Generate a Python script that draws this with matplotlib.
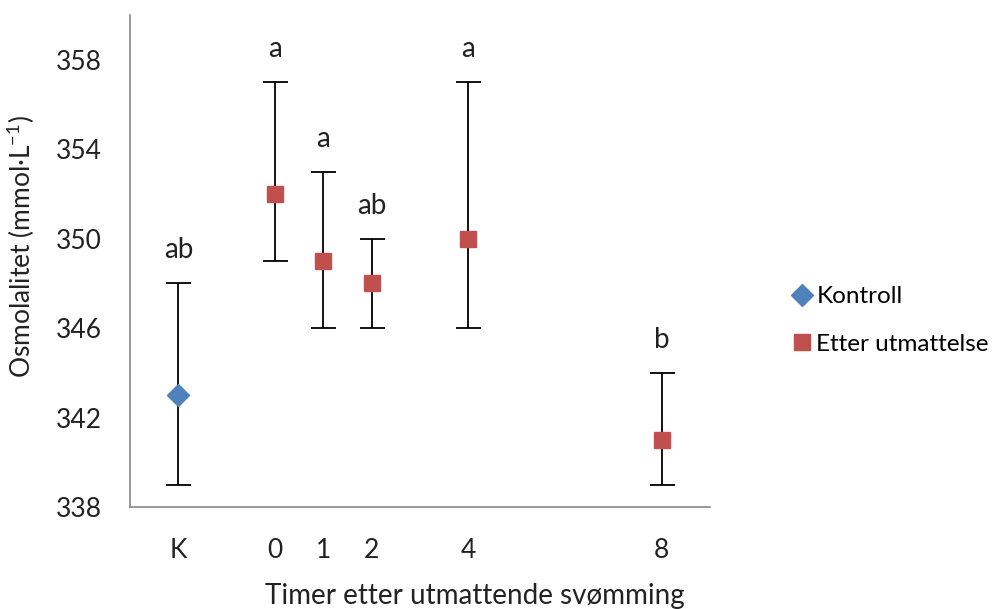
import matplotlib
matplotlib.use('Agg')
import matplotlib.pyplot as plt
from matplotlib.lines import Line2D

# data
categories = ['K', '0', '1', '2', '4', '8']
x_pos = [-2, 0, 1, 2, 4, 8]
means = [343, 352, 349, 348, 350, 341]
lower = [339, 349, 346, 346, 346, 339]
upper = [348, 357, 353, 350, 357, 344]
letters = ['ab', 'a', 'a', 'ab', 'a', 'b']
y_ticks = [338, 342, 346, 350, 354, 358]

plt.rcParams['font.family'] = ['Lato', 'DejaVu Sans']
plt.rcParams['mathtext.fontset'] = 'custom'
plt.rcParams['mathtext.rm'] = 'Lato'

fig = plt.figure(figsize=(10.05, 6.09), dpi=100)
ax = fig.add_axes([130 / 1005, 1 - 507 / 609, 580 / 1005, 492 / 609])

err_lo = [m - l for m, l in zip(means, lower)]
err_hi = [u - m for m, u in zip(means, upper)]

# kontroll (first point)
ax.errorbar(x_pos[:1], means[:1], yerr=[err_lo[:1], err_hi[:1]], fmt='D',
            color='#4F81BD', ms=11, ecolor='black', elinewidth=1.3,
            capsize=9, capthick=1.3, zorder=3)
# etter utmattelse
ax.errorbar(x_pos[1:], means[1:], yerr=[err_lo[1:], err_hi[1:]], fmt='s',
            color='#C0504D', ms=11, ecolor='black', elinewidth=1.3,
            capsize=9, capthick=1.3, zorder=3)

for x, u, t in zip(x_pos, upper, letters):
    ax.annotate(t, (x, u), xytext=(0, 18), textcoords='offset points',
                ha='center', va='baseline', fontsize=20, color='#222222')

ax.set_xlim(-3, 9)
ax.set_ylim(338, 360)
ax.set_xticks(x_pos)
ax.set_xticklabels(categories)
ax.set_yticks(y_ticks)
ax.tick_params(length=0, labelsize=19, colors='#222222')
ax.tick_params(axis='x', pad=22)
ax.tick_params(axis='y', pad=20)

for s in ['top', 'right']:
    ax.spines[s].set_visible(False)
for s in ['left', 'bottom']:
    ax.spines[s].set_color('#888888')
    ax.spines[s].set_linewidth(1.2)

ax.set_xlabel('Timer etter utmattende svømming', fontsize=20, color='#222222')
ax.xaxis.set_label_coords(0.595, -0.155)
ax.set_ylabel(r'Osmolalitet (mmol·L$^{\mathrm{-1}}$)', fontsize=19, color='#222222')
ax.yaxis.set_label_coords(-0.16, 0.53)

handles = [
    Line2D([], [], ls='', marker='D', ms=11, color='#4F81BD'),
    Line2D([], [], ls='', marker='s', ms=11, color='#C0504D'),
]
fig.legend(handles, ['Kontroll', 'Etter utmattelse'], loc='upper left',
           bbox_to_anchor=(780 / 1005, 1 - 274 / 609), frameon=False,
           fontsize=17.5, handlelength=0.8, handletextpad=0.2,
           labelspacing=1.1, borderpad=0)

fig.savefig('out.png', dpi=100)
